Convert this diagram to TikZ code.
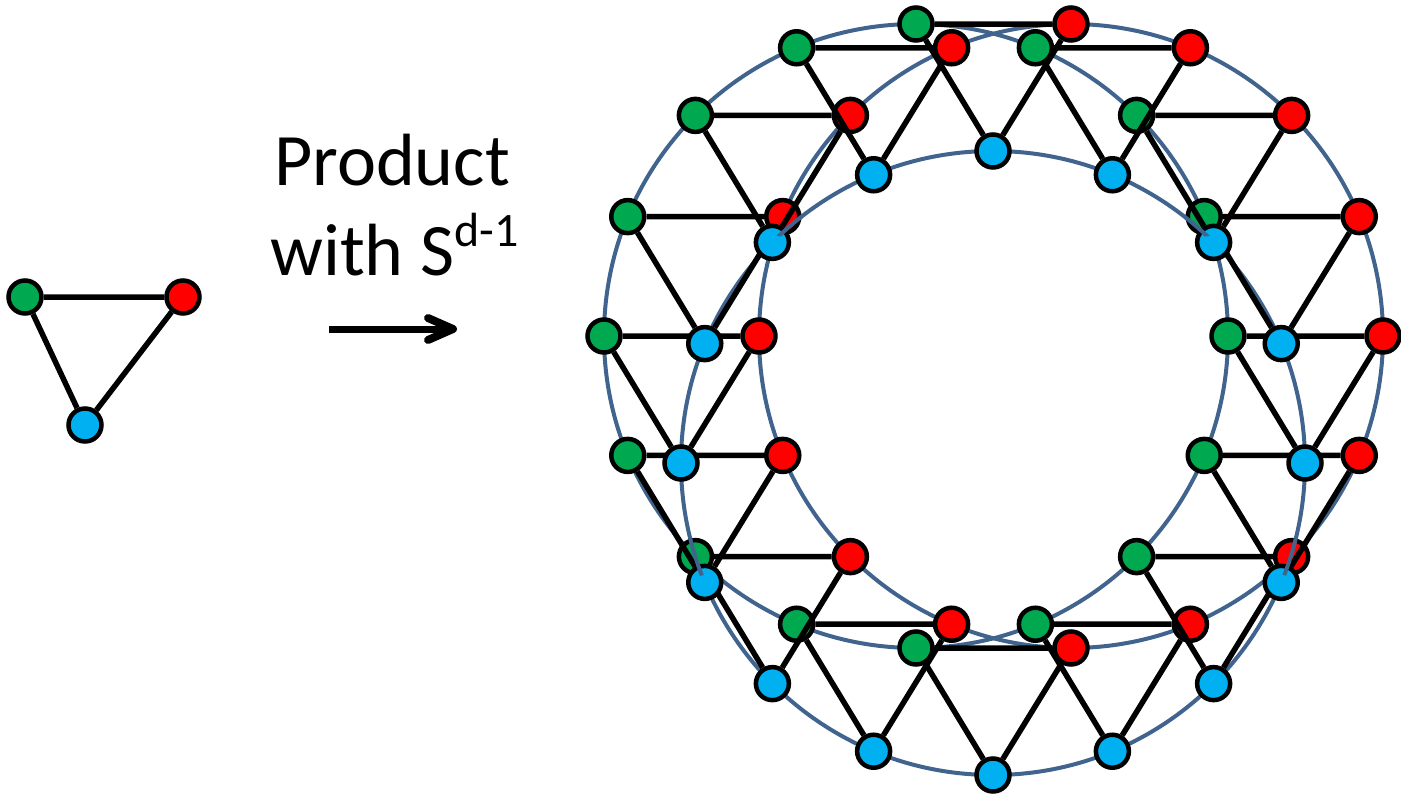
\documentclass[tikz,border=0pt]{standalone}
\usepackage{fontspec}
\setmainfont{Carlito}
\definecolor{ngreen}{HTML}{00A84F}
\definecolor{nred}{HTML}{FF0000}
\definecolor{nblue}{HTML}{00B0F0}
\definecolor{ringc}{HTML}{41648F}
\tikzset{
  vtx/.style={circle, draw=black, line width=4.5, minimum size=33, inner sep=0},
  gv/.style={vtx, fill=ngreen},
  rv/.style={vtx, fill=nred},
  bv/.style={vtx, fill=nblue},
  edgeline/.style={draw=black, line width=5.5},
  ringline/.style={draw=ringc, line width=4},
  label/.style={anchor=base west, inner sep=0, text=black, font=\fontsize{74}{90}\selectfont},
}
\begin{document}
\begin{tikzpicture}[x=1pt, y=-1pt]
\useasboundingbox (0,0) rectangle (1401,795);
% left triangle
\node[gv] (tg) at (25,297) {};
\node[rv] (tr) at (183,297) {};
\node[bv] (tb) at (85,425) {};
\draw[edgeline] (tg) -- (tr) -- (tb) -- (tg);
% text
\node[label] (t1) at (274,185) {Product};
\node[label] (t2) at (270,275) {with S\raisebox{29pt}{\fontsize{48}{48}\selectfont d-1}};
% arrow
\coordinate (a1) at (329,329);
\coordinate (a2) at (453,329);
\coordinate (a3) at (428,318);
\coordinate (a4) at (428,340);
\draw[line width=7] (a1) -- (a2);
\draw[line width=8, line cap=round, line join=round] (a3) -- (a2) -- (a4);
% ring circles
\coordinate (cg) at (916,336);
\coordinate (cr) at (1071,336);
\coordinate (cb) at (993,463);
\draw[ringline] (cg) circle[radius=312];
\draw[ringline] (cr) circle[radius=312];
\draw[ringline] (cb) circle[radius=312];
% product triangles
\foreach \a [count=\i] in {90,-90,-67.5,-45,-22.5,0,22.5,45,67.5,-112.5,-135,-157.5,180,157.5,135,112.5}{
  \node[gv] (g\i) at ({916+312*cos(\a)},{336-312*sin(\a)}) {};
  \node[rv] (r\i) at ({1071+312*cos(\a)},{336-312*sin(\a)}) {};
  \node[bv] (b\i) at ({993+312*cos(\a)},{463-312*sin(\a)}) {};
  \draw[edgeline] (g\i) -- (r\i) -- (b\i) -- (g\i);
}
% ring passing over a few vertices
\foreach \n in {r4,g11,r14,g7}{
  \begin{scope}
    \clip (\n) circle[radius=20];
    \draw[ringline] (cb) circle[radius=312];
  \end{scope}
}
\end{tikzpicture}
\end{document}
